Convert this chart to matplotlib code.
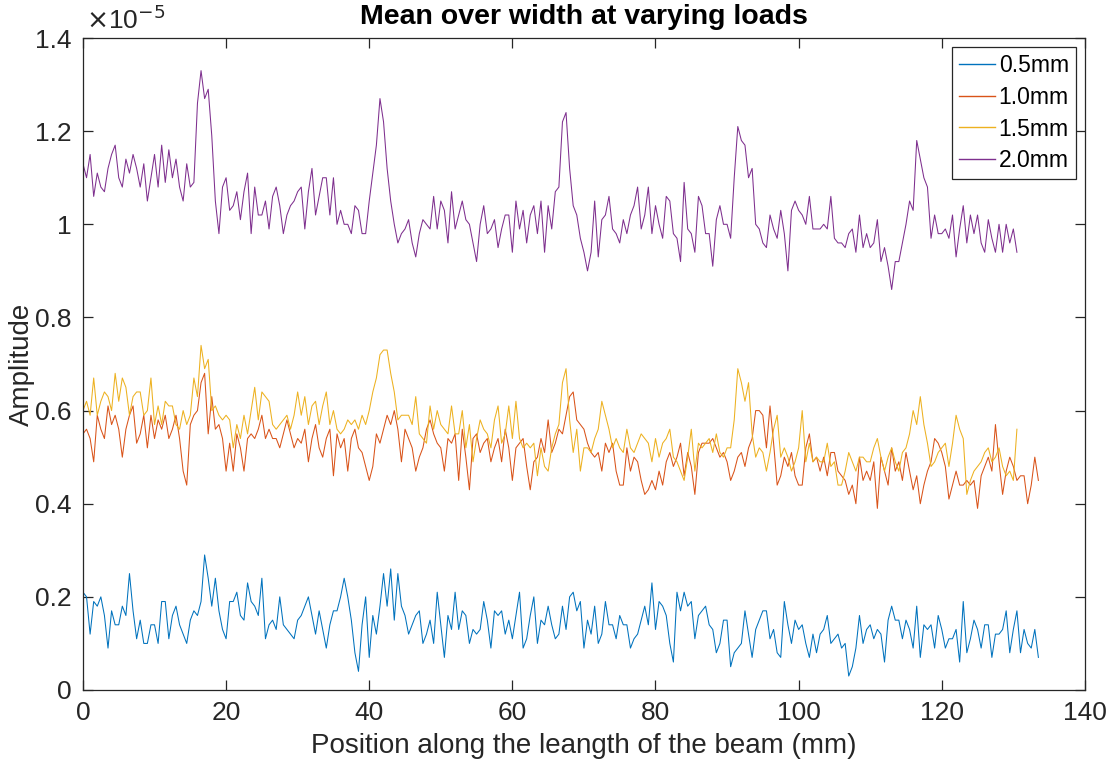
import matplotlib
matplotlib.use("Agg")
import matplotlib.pyplot as plt
import numpy as np
from matplotlib.ticker import FuncFormatter

plt.rcParams['font.family'] = ['Liberation Sans', 'DejaVu Sans']

# amplitudes in units of 1e-5, sampled every 0.5 mm from 0 mm
amp_05 = [
    0.21, 0.20, 0.12, 0.19, 0.18, 0.20, 0.16, 0.09, 0.17, 0.14,
    0.14, 0.18, 0.16, 0.25, 0.17, 0.11, 0.15, 0.10, 0.10, 0.14,
    0.14, 0.10, 0.19, 0.19, 0.11, 0.16, 0.18, 0.14, 0.12, 0.10,
    0.15, 0.17, 0.16, 0.19, 0.29, 0.24, 0.18, 0.24, 0.17, 0.13,
    0.11, 0.19, 0.19, 0.21, 0.16, 0.15, 0.23, 0.19, 0.18, 0.16,
    0.24, 0.11, 0.14, 0.15, 0.13, 0.20, 0.14, 0.13, 0.12, 0.11,
    0.15, 0.16, 0.18, 0.20, 0.16, 0.12, 0.17, 0.13, 0.09, 0.14,
    0.17, 0.17, 0.20, 0.24, 0.20, 0.15, 0.08, 0.04, 0.14, 0.20,
    0.07, 0.16, 0.12, 0.18, 0.25, 0.18, 0.26, 0.15, 0.25, 0.18,
    0.16, 0.12, 0.14, 0.16, 0.17, 0.10, 0.12, 0.15, 0.10, 0.21,
    0.14, 0.07, 0.16, 0.13, 0.21, 0.13, 0.17, 0.16, 0.10, 0.13,
    0.12, 0.13, 0.19, 0.15, 0.09, 0.17, 0.16, 0.17, 0.12, 0.15,
    0.11, 0.16, 0.21, 0.09, 0.11, 0.16, 0.20, 0.10, 0.15, 0.14,
    0.18, 0.14, 0.11, 0.12, 0.18, 0.13, 0.20, 0.21, 0.17, 0.19,
    0.09, 0.15, 0.12, 0.18, 0.10, 0.12, 0.19, 0.14, 0.14, 0.11,
    0.16, 0.14, 0.14, 0.09, 0.11, 0.12, 0.15, 0.18, 0.14, 0.23,
    0.13, 0.19, 0.18, 0.16, 0.10, 0.06, 0.21, 0.17, 0.21, 0.18,
    0.19, 0.11, 0.16, 0.17, 0.18, 0.14, 0.13, 0.08, 0.10, 0.15,
    0.15, 0.05, 0.08, 0.09, 0.10, 0.17, 0.12, 0.07, 0.13, 0.15,
    0.17, 0.17, 0.11, 0.13, 0.08, 0.07, 0.19, 0.14, 0.10, 0.15,
    0.13, 0.14, 0.10, 0.07, 0.12, 0.08, 0.12, 0.13, 0.16, 0.10,
    0.11, 0.12, 0.09, 0.10, 0.03, 0.05, 0.09, 0.16, 0.10, 0.13,
    0.14, 0.11, 0.13, 0.12, 0.06, 0.15, 0.18, 0.15, 0.15, 0.11,
    0.15, 0.13, 0.09, 0.18, 0.07, 0.14, 0.13, 0.14, 0.09, 0.16,
    0.13, 0.09, 0.11, 0.11, 0.13, 0.06, 0.19, 0.08, 0.11, 0.15,
    0.13, 0.09, 0.14, 0.14, 0.07, 0.12, 0.12, 0.13, 0.17, 0.08,
    0.13, 0.17, 0.08, 0.13, 0.10, 0.09, 0.13, 0.07,
]

amp_10 = [
    0.55, 0.56, 0.54, 0.49, 0.59, 0.56, 0.54, 0.61, 0.57, 0.59,
    0.56, 0.50, 0.56, 0.59, 0.61, 0.53, 0.55, 0.59, 0.52, 0.59,
    0.54, 0.58, 0.56, 0.59, 0.54, 0.56, 0.59, 0.54, 0.47, 0.44,
    0.57, 0.59, 0.60, 0.66, 0.68, 0.55, 0.63, 0.56, 0.57, 0.54,
    0.47, 0.53, 0.47, 0.55, 0.52, 0.47, 0.54, 0.55, 0.54, 0.56,
    0.59, 0.54, 0.56, 0.54, 0.54, 0.52, 0.55, 0.58, 0.55, 0.52,
    0.54, 0.53, 0.56, 0.49, 0.54, 0.57, 0.52, 0.50, 0.54, 0.56,
    0.46, 0.55, 0.52, 0.54, 0.47, 0.54, 0.56, 0.52, 0.51, 0.48,
    0.45, 0.48, 0.55, 0.53, 0.56, 0.59, 0.57, 0.60, 0.56, 0.49,
    0.56, 0.54, 0.52, 0.47, 0.50, 0.52, 0.56, 0.58, 0.55, 0.53,
    0.52, 0.47, 0.54, 0.53, 0.55, 0.45, 0.56, 0.50, 0.43, 0.54,
    0.55, 0.51, 0.53, 0.54, 0.49, 0.52, 0.54, 0.49, 0.56, 0.52,
    0.45, 0.52, 0.53, 0.54, 0.48, 0.43, 0.49, 0.50, 0.54, 0.51,
    0.58, 0.51, 0.53, 0.56, 0.55, 0.59, 0.63, 0.64, 0.58, 0.57,
    0.56, 0.53, 0.51, 0.50, 0.51, 0.47, 0.53, 0.51, 0.53, 0.47,
    0.44, 0.44, 0.52, 0.47, 0.50, 0.49, 0.45, 0.42, 0.43, 0.45,
    0.43, 0.47, 0.44, 0.49, 0.51, 0.48, 0.50, 0.53, 0.46, 0.51,
    0.48, 0.42, 0.51, 0.53, 0.53, 0.53, 0.54, 0.52, 0.50, 0.51,
    0.49, 0.45, 0.47, 0.50, 0.51, 0.48, 0.52, 0.54, 0.60, 0.60,
    0.59, 0.52, 0.61, 0.53, 0.44, 0.46, 0.50, 0.48, 0.51, 0.46,
    0.44, 0.44, 0.52, 0.55, 0.49, 0.50, 0.47, 0.50, 0.46, 0.51,
    0.51, 0.47, 0.46, 0.45, 0.42, 0.44, 0.40, 0.50, 0.45, 0.47,
    0.45, 0.49, 0.39, 0.50, 0.47, 0.44, 0.52, 0.47, 0.49, 0.45,
    0.51, 0.47, 0.43, 0.46, 0.40, 0.44, 0.47, 0.49, 0.54, 0.53,
    0.51, 0.48, 0.41, 0.44, 0.47, 0.44, 0.44, 0.45, 0.44, 0.45,
    0.39, 0.46, 0.48, 0.50, 0.47, 0.57, 0.49, 0.42, 0.47, 0.50,
    0.48, 0.45, 0.46, 0.46, 0.40, 0.44, 0.50, 0.45,
]

amp_15 = [
    0.60, 0.62, 0.59, 0.67, 0.59, 0.62, 0.64, 0.63, 0.60, 0.68,
    0.62, 0.67, 0.65, 0.59, 0.63, 0.64, 0.64, 0.59, 0.60, 0.67,
    0.57, 0.61, 0.57, 0.62, 0.61, 0.61, 0.57, 0.56, 0.60, 0.57,
    0.59, 0.67, 0.63, 0.74, 0.69, 0.71, 0.60, 0.61, 0.59, 0.58,
    0.59, 0.58, 0.52, 0.57, 0.54, 0.59, 0.55, 0.60, 0.65, 0.58,
    0.64, 0.63, 0.62, 0.57, 0.56, 0.57, 0.58, 0.59, 0.56, 0.59,
    0.64, 0.59, 0.63, 0.57, 0.61, 0.62, 0.57, 0.61, 0.64, 0.57,
    0.60, 0.56, 0.55, 0.56, 0.58, 0.57, 0.58, 0.56, 0.59, 0.57,
    0.60, 0.64, 0.67, 0.72, 0.73, 0.73, 0.68, 0.64, 0.58, 0.59,
    0.59, 0.59, 0.57, 0.63, 0.55, 0.54, 0.53, 0.61, 0.56, 0.60,
    0.57, 0.56, 0.55, 0.61, 0.55, 0.55, 0.60, 0.52, 0.57, 0.49,
    0.54, 0.58, 0.56, 0.55, 0.52, 0.58, 0.61, 0.53, 0.55, 0.61,
    0.54, 0.62, 0.54, 0.52, 0.53, 0.52, 0.53, 0.46, 0.52, 0.48,
    0.47, 0.52, 0.55, 0.57, 0.66, 0.69, 0.58, 0.51, 0.56, 0.47,
    0.52, 0.52, 0.51, 0.54, 0.56, 0.62, 0.59, 0.56, 0.52, 0.54,
    0.52, 0.51, 0.56, 0.52, 0.51, 0.53, 0.55, 0.54, 0.53, 0.49,
    0.54, 0.50, 0.53, 0.54, 0.56, 0.50, 0.49, 0.47, 0.45, 0.50,
    0.56, 0.47, 0.53, 0.52, 0.53, 0.54, 0.51, 0.55, 0.51, 0.50,
    0.52, 0.52, 0.58, 0.69, 0.66, 0.62, 0.66, 0.55, 0.50, 0.52,
    0.51, 0.47, 0.51, 0.56, 0.59, 0.50, 0.52, 0.50, 0.47, 0.49,
    0.52, 0.60, 0.49, 0.53, 0.49, 0.50, 0.49, 0.49, 0.53, 0.48,
    0.49, 0.44, 0.44, 0.47, 0.51, 0.49, 0.47, 0.50, 0.50, 0.49,
    0.49, 0.52, 0.54, 0.50, 0.47, 0.50, 0.52, 0.49, 0.47, 0.51,
    0.52, 0.55, 0.60, 0.57, 0.63, 0.57, 0.53, 0.48, 0.49, 0.51,
    0.52, 0.53, 0.48, 0.53, 0.59, 0.56, 0.54, 0.42, 0.45, 0.47,
    0.48, 0.49, 0.51, 0.52, 0.49, 0.50, 0.52, 0.48, 0.46, 0.47,
    0.45, 0.56,
]

amp_20 = [
    1.13, 1.10, 1.15, 1.06, 1.11, 1.08, 1.07, 1.12, 1.15, 1.17,
    1.10, 1.08, 1.14, 1.11, 1.15, 1.12, 1.08, 1.13, 1.05, 1.10,
    1.15, 1.08, 1.17, 1.09, 1.16, 1.10, 1.14, 1.08, 1.05, 1.13,
    1.08, 1.09, 1.26, 1.33, 1.27, 1.29, 1.19, 1.05, 0.98, 1.08,
    1.10, 1.03, 1.04, 1.07, 1.01, 1.07, 1.11, 0.98, 1.08, 1.02,
    1.02, 1.05, 0.99, 1.06, 1.08, 1.04, 0.98, 1.02, 1.04, 1.05,
    1.07, 1.08, 0.99, 1.07, 1.12, 1.02, 1.06, 1.10, 1.10, 1.02,
    1.10, 1.00, 1.03, 1.00, 1.00, 0.98, 1.04, 1.03, 0.98, 0.98,
    1.05, 1.11, 1.17, 1.27, 1.22, 1.12, 1.05, 1.00, 0.96, 0.98,
    0.99, 1.01, 0.96, 0.93, 0.98, 1.01, 1.00, 0.99, 1.06, 0.99,
    1.05, 1.03, 0.96, 1.07, 0.99, 1.02, 1.05, 1.01, 1.00, 0.96,
    0.92, 1.00, 1.04, 0.98, 0.99, 1.01, 0.95, 0.99, 1.02, 1.02,
    0.94, 1.05, 0.99, 1.03, 0.96, 1.02, 1.04, 0.98, 1.05, 0.94,
    1.04, 0.99, 1.07, 1.08, 1.22, 1.24, 1.12, 1.04, 1.02, 0.97,
    0.94, 0.90, 0.94, 1.05, 0.93, 1.01, 1.02, 1.06, 0.99, 0.98,
    0.96, 1.01, 0.98, 1.02, 1.04, 1.08, 0.99, 1.02, 1.08, 0.98,
    1.04, 1.00, 0.97, 1.06, 1.05, 0.98, 0.97, 0.92, 1.09, 0.99,
    0.98, 0.94, 1.06, 1.04, 0.98, 0.98, 0.91, 1.01, 1.04, 1.00,
    1.00, 0.97, 1.10, 1.21, 1.18, 1.17, 1.10, 1.12, 1.00, 0.99,
    0.96, 0.95, 1.02, 0.99, 0.97, 1.03, 0.98, 0.90, 1.03, 1.05,
    1.03, 1.02, 1.00, 1.06, 0.99, 0.99, 0.99, 1.00, 0.99, 1.06,
    0.97, 0.96, 0.96, 0.95, 0.98, 0.99, 0.94, 1.02, 0.95, 0.98,
    0.95, 0.96, 1.01, 0.92, 0.95, 0.91, 0.86, 0.92, 0.92, 0.96,
    1.00, 1.05, 1.03, 1.18, 1.14, 1.10, 1.08, 0.97, 1.02, 0.98,
    0.98, 0.99, 0.97, 1.02, 0.93, 0.99, 1.04, 0.96, 1.02, 0.98,
    1.02, 0.96, 0.94, 1.01, 0.97, 0.94, 1.00, 0.94, 1.00, 0.96,
    0.99, 0.94,
]

step_mm = 0.5
labels = ['0.5mm', '1.0mm', '1.5mm', '2.0mm']
colors = ['#0072BD', '#D95319', '#EDB120', '#7E2F8E']
series = [amp_05, amp_10, amp_15, amp_20]

fig = plt.figure(figsize=(11.18, 7.67), dpi=100)
ax = fig.add_axes([0.0742, 0.1004, 0.8962, 0.850])

for y, lab, c in zip(series, labels, colors):
    x = np.arange(len(y)) * step_mm
    ax.plot(x, y, color=c, lw=0.75, label=lab)

ax.set_xlim(0, 140)
ax.set_ylim(0, 1.4)
ax.set_xticks(np.arange(0, 141, 20))
ax.set_yticks(np.arange(0, 1.41, 0.2))
ax.yaxis.set_major_formatter(FuncFormatter(lambda v, p: '%g' % round(v, 2)))

grey = '#262626'
for s in ax.spines.values():
    s.set_color(grey)
    s.set_linewidth(0.9)
ax.tick_params(direction='in', length=7, width=0.9, colors=grey,
               labelsize=19, top=True, right=True, pad=8)

ax.set_xlabel('Position along the leangth of the beam (mm)', fontsize=20, color=grey, labelpad=6)
ax.set_ylabel('Amplitude', fontsize=20, color=grey, va='center')
ax.yaxis.set_label_coords(-0.061, 0.5)
ax.set_title('Mean over width at varying loads', fontsize=20.5, fontweight='bold', pad=10)

ax.annotate(r'$\times$10$^{-5}$', xy=(0, 1), xycoords='axes fraction',
            xytext=(2, 3), textcoords='offset points', fontsize=19,
            color=grey, ha='left', va='bottom')

leg = ax.legend(loc='upper right', fontsize=16.5, frameon=True, fancybox=False,
                framealpha=1, edgecolor=grey, handlelength=1.6,
                handletextpad=0.15, labelspacing=0.38, borderpad=0.3,
                borderaxespad=0.4)
leg.get_frame().set_linewidth(0.9)
for h in leg.get_lines():
    h.set_linewidth(1.0)

fig.savefig('out.png', dpi=100)
